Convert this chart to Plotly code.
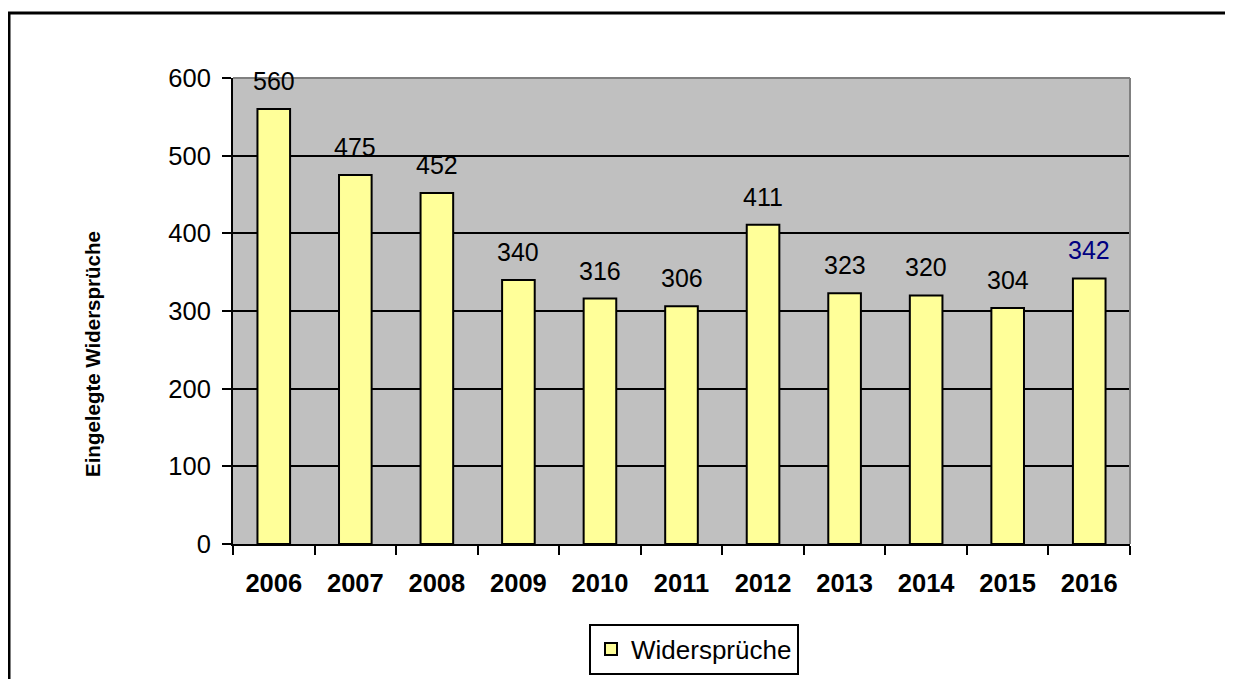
import plotly.graph_objects as go

years = ["2006", "2007", "2008", "2009", "2010", "2011", "2012", "2013", "2014", "2015", "2016"]
values = [560, 475, 452, 340, 316, 306, 411, 323, 320, 304, 342]
label_colors = ["#000000"] * 10 + ["#000080"]
series_name = "Widersprüche"
y_title = "Eingelegte Widersprüche"

FONT = "Liberation Sans, Arial, sans-serif"

# page body has an 8px margin; figure coords are offset by it
OFF = 8
W, H = 1233 - 2 * OFF, 687 - 2 * OFF
PL, PR, PT, PB = 233 - OFF, 1130 - OFF, 78 - OFF, 544 - OFF
pw, ph = PR - PL, PB - PT

def px_x(x):
    return (x - OFF - PL) / pw

def px_y(y):
    return (PB - (y - OFF)) / ph

fig = go.Figure()
fig.add_trace(go.Bar(
    x=years, y=values, name=series_name,
    marker=dict(color="#FFFF99", line=dict(color="#000000", width=2)),
    showlegend=True,
))

annotations = []
for i, (v, c) in enumerate(zip(values, label_colors)):
    annotations.append(dict(
        x=i, y=v, xref="x", yref="y", text=str(v), showarrow=False,
        yanchor="middle", yshift=28, font=dict(family=FONT, size=25, color=c),
    ))
annotations.append(dict(
    x=px_x(92), y=px_y(354), xref="paper", yref="paper", text="<b>%s</b>" % y_title,
    textangle=-90, showarrow=False, font=dict(family=FONT, size=20.5, color="#000000"),
    xanchor="center", yanchor="middle",
))

shapes = [
    dict(type="rect", xref="paper", yref="paper", x0=px_x(9), x1=1.3, y0=-0.5, y1=px_y(13),
         line=dict(color="#000000", width=3), fillcolor="rgba(0,0,0,0)", layer="below"),
    dict(type="line", xref="paper", yref="paper", x0=0, x1=1, y0=1, y1=1,
         line=dict(color="#808080", width=2)),
    dict(type="line", xref="paper", yref="paper", x0=1, x1=1, y0=0, y1=1,
         line=dict(color="#808080", width=2)),
]

fig.update_layout(
    width=W, height=H,
    margin=dict(l=PL, r=W - PR, t=PT, b=H - PB, autoexpand=False),
    paper_bgcolor="#FFFFFF",
    plot_bgcolor="#C0C0C0",
    bargap=0.6,
    font=dict(family=FONT, size=24, color="#000000"),
    xaxis=dict(
        type="category", range=[-0.5, len(years) - 0.5],
        showgrid=False, showline=True, linecolor="#000000", linewidth=2,
        ticks="outside", tickson="boundaries", ticklen=9, tickwidth=2, tickcolor="#000000",
        tickfont=dict(family=FONT, size=25.5, color="#000000", weight="bold"),
        tickangle=0, zeroline=False, ticklabelstandoff=15, automargin=False,
    ),
    yaxis=dict(
        range=[0, 600], dtick=100, showgrid=True, gridcolor="#000000", gridwidth=2,
        showline=True, linecolor="#000000", linewidth=2,
        ticks="outside", ticklen=9, tickwidth=2, tickcolor="#000000",
        tickfont=dict(family=FONT, size=25.5, color="#000000"), zeroline=False,
        ticklabelstandoff=6, automargin=False,
    ),
    legend=dict(
        orientation="h", x=px_x(694), y=px_y(649), xanchor="center", yanchor="middle",
        bordercolor="#000000", borderwidth=2, bgcolor="#FFFFFF",
        font=dict(family=FONT, size=26, color="#000000"),
        itemwidth=30,
    ),
    annotations=annotations,
    shapes=shapes,
)

fig.write_html("out.html")
